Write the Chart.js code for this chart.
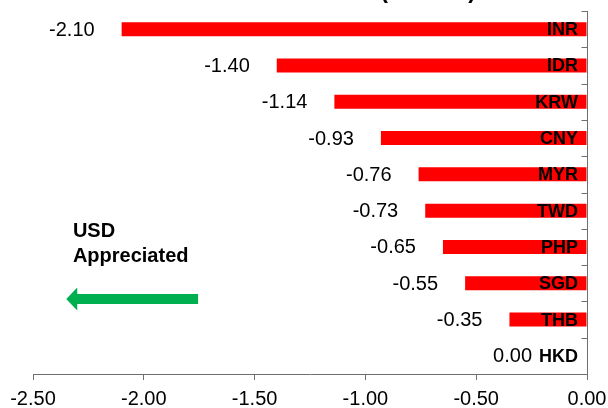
<!DOCTYPE html>
<html><head><meta charset="utf-8">
<script src="https://cdn.jsdelivr.net/npm/chart.js@4.4.1/dist/chart.umd.min.js"></script>
<style>html,body{margin:0;padding:0;background:#fff;}#wrap{width:608px;height:408px;}</style>
</head><body><div id="wrap"><canvas id="c" width="608" height="408"></canvas></div>
<script>
const currencies = ['INR','IDR','KRW','CNY','MYR','TWD','PHP','SGD','THB','HKD'];
const changes = [-2.10,-1.40,-1.14,-0.93,-0.76,-0.73,-0.65,-0.55,-0.35,0.00];
const xTicks = [-2.5,-2.0,-1.5,-1.0,-0.5,0.0];
const titleText = 'Asian FX Performance (vs USD)';
const noteLines = ['USD','Appreciated'];

const FONT = '"Liberation Sans", Arial, Helvetica, sans-serif';
const AXIS_COLOR = '#6f6f6f';

const overlay = {
  id: 'overlay',
  afterDatasetsDraw(chart) {
    const ctx = chart.ctx;
    const xs = chart.scales.x, ys = chart.scales.y;
    const ca = chart.chartArea;
    const meta = chart.getDatasetMeta(0);
    ctx.save();
    // inward tick marks on right axis at category boundaries
    ctx.strokeStyle = AXIS_COLOR;
    ctx.lineWidth = 1;
    for (let i = 0; i <= currencies.length; i++) {
      const y = Math.round(ys.getPixelForValue(i - 0.5)) + 0.5;
      ctx.beginPath();
      ctx.moveTo(ca.right - 5.5, y);
      ctx.lineTo(ca.right, y);
      ctx.stroke();
    }
    // category labels and value labels
    ctx.fillStyle = '#000';
    ctx.textBaseline = 'middle';
    meta.data.forEach((bar, i) => {
      ctx.font = 'bold 18px ' + FONT;
      ctx.textAlign = 'right';
      const catRight = ca.right - 9;
      ctx.fillText(currencies[i], catRight, bar.y + 1);
      const catLeft = catRight - ctx.measureText(currencies[i]).width;
      ctx.font = '20px ' + FONT;
      const lx = Math.min(bar.x - 27, catLeft - 7);
      ctx.fillText(changes[i].toFixed(2), lx, bar.y + 1);
    });
    // note text
    ctx.font = 'bold 20px ' + FONT;
    ctx.textAlign = 'left';
    ctx.textBaseline = 'alphabetic';
    const nx = xs.getPixelForValue(-2.32);
    ctx.fillText(noteLines[0], nx, 237);
    ctx.fillText(noteLines[1], nx, 261.5);
    // green arrow
    const tip = xs.getPixelForValue(-2.35);
    const tail = xs.getPixelForValue(-1.755);
    const ay = 299;
    ctx.fillStyle = '#00B050';
    ctx.beginPath();
    ctx.moveTo(tip, ay);
    ctx.lineTo(tip + 11, ay - 11.5);
    ctx.lineTo(tip + 11, ay - 5);
    ctx.lineTo(tail, ay - 5);
    ctx.lineTo(tail, ay + 5);
    ctx.lineTo(tip + 11, ay + 5);
    ctx.lineTo(tip + 11, ay + 11.5);
    ctx.closePath();
    ctx.fill();
    // title (mostly above the canvas)
    ctx.fillStyle = '#000';
    ctx.font = 'bold 23px ' + FONT;
    ctx.textAlign = 'right';
    ctx.fillText(titleText, 476, -2.5);
    ctx.restore();
  }
};

new Chart(document.getElementById('c'), {
  type: 'bar',
  data: {
    labels: currencies,
    datasets: [{
      data: changes,
      backgroundColor: '#FF0000',
      borderWidth: 0,
      barPercentage: 0.385,
      categoryPercentage: 1.0
    }]
  },
  options: {
    indexAxis: 'y',
    responsive: false,
    animation: false,
    devicePixelRatio: 1,
    layout: { padding: { top: 11, left: 33, right: 21, bottom: 0 } },
    plugins: { legend: { display: false }, tooltip: { enabled: false }, title: { display: false } },
    scales: {
      x: {
        type: 'linear',
        min: xTicks[0],
        max: xTicks[xTicks.length - 1],
        afterBuildTicks: (s) => { s.ticks = xTicks.map(v => ({ value: v })); },
        ticks: {
          callback: (v) => Number(v).toFixed(2),
          font: { family: FONT, size: 20 },
          color: '#000',
          padding: 7,
          maxRotation: 0,
          autoSkip: false
        },
        grid: { display: true, drawOnChartArea: false, drawTicks: true, tickLength: 6, color: AXIS_COLOR, lineWidth: 1 },
        border: { display: true, color: AXIS_COLOR, width: 1 },
        afterFit: (s) => { s.height = 34; s.paddingLeft = 0; s.paddingRight = 0; }
      },
      y: {
        type: 'category',
        position: 'right',
        ticks: { display: false },
        grid: { display: false, drawTicks: false },
        border: { display: true, color: AXIS_COLOR, width: 1 },
        afterFit: (s) => { s.width = 0; s.paddingTop = 0; s.paddingBottom = 0; }
      }
    }
  },
  plugins: [overlay]
});
</script>
</body></html>
